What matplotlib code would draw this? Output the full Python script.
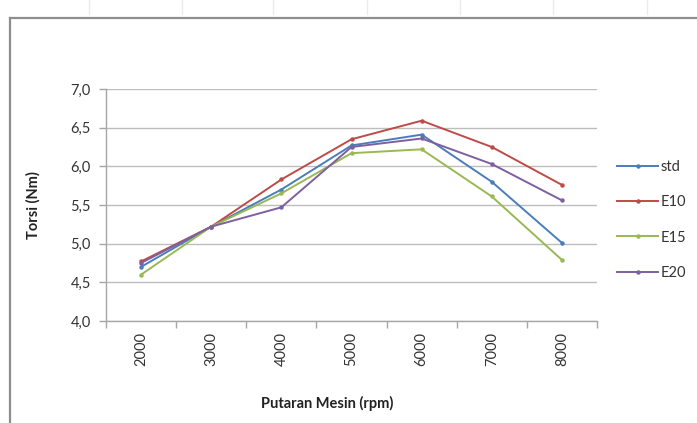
import matplotlib
matplotlib.use("Agg")
import matplotlib.pyplot as plt
from matplotlib.lines import Line2D
import numpy as np

plt.rcParams['font.family'] = ['Lato', 'DejaVu Sans']

# Engine speed categories and torque per fuel blend
rpm_labels = ["2000", "3000", "4000", "5000", "6000", "7000", "8000"]
std = [4.70, 5.22, 5.70, 6.27, 6.41, 5.80, 5.01]
e10 = [4.77, 5.22, 5.83, 6.35, 6.59, 6.25, 5.76]
e15 = [4.60, 5.22, 5.65, 6.17, 6.22, 5.61, 4.79]
e20 = [4.75, 5.22, 5.47, 6.25, 6.36, 6.03, 5.56]
series_names = ["std", "E10", "E15", "E20"]
y_ticks = [4.0, 4.5, 5.0, 5.5, 6.0, 6.5, 7.0]

colors = ["#4A7EBB", "#BE4B48", "#98B954", "#7D60A0"]

W, H = 697, 423
fig = plt.figure(figsize=(W / 100, H / 100), dpi=100)
fig.patch.set_facecolor("white")

# frame of the chart object
fig.add_artist(Line2D([10 / W, 10 / W], [0, 1 - 18 / H], color="#8E8E8E", lw=1.6,
                      transform=fig.transFigure))
fig.add_artist(Line2D([10 / W, 1], [1 - 18 / H, 1 - 18 / H], color="#8E8E8E", lw=1.6,
                      transform=fig.transFigure))
# faint marks above the frame
for px in [89, 182, 273, 367, 460, 553, 647]:
    fig.add_artist(Line2D([px / W, px / W], [1 - 14 / H, 1], color="#EBEBEB", lw=1.0,
                          transform=fig.transFigure))

ax = fig.add_axes([106 / W, 1 - 321 / H, 491 / W, 232 / H])
x = np.arange(len(rpm_labels))
for vals, c, name in zip([std, e10, e15, e20], colors, series_names):
    ax.plot(x, vals, color=c, lw=1.4, marker="o", markersize=3.2,
            markeredgewidth=0, label=name, zorder=3)

ax.set_xlim(-0.5, len(rpm_labels) - 0.5)
ax.set_ylim(4.0, 7.0)
ax.set_yticks(y_ticks)
ax.set_yticklabels([f"{v:.1f}".replace(".", ",") for v in y_ticks], fontsize=10.5,
                   color="#333333")
ax.set_xticks(x)
ax.set_xticklabels(rpm_labels, rotation=90, fontsize=10.5, color="#333333")
ax.set_xticks(np.arange(-0.5, len(rpm_labels) + 0.5, 1.0), minor=True)
ax.tick_params(axis="x", which="major", length=0, pad=8)
ax.tick_params(axis="x", which="minor", length=5, color="#A6A6A6", width=1)
ax.tick_params(axis="y", which="major", length=5, color="#A6A6A6", width=1, pad=6)

ax.grid(axis="y", color="#BDBDBD", lw=1.0, zorder=0)
for s in ["top", "right"]:
    ax.spines[s].set_visible(False)
for s in ["left", "bottom"]:
    ax.spines[s].set_color("#A6A6A6")
    ax.spines[s].set_linewidth(1.0)

fig.text(33 / W, 1 - 205 / H, "Torsi (Nm)", fontsize=10.5, fontweight="bold",
         color="#222222", ha="center", va="center", rotation=90)
fig.text(327 / W, 1 - 403 / H, "Putaran Mesin (rpm)", fontsize=10.5, fontweight="bold",
         color="#222222", ha="center", va="center")

leg = fig.legend(loc="center left", bbox_to_anchor=(610 / W, 1 - 220 / H),
                 frameon=False, fontsize=10.5, handlelength=2.8, labelspacing=1.45,
                 handletextpad=0.15, borderpad=0)
for t in leg.get_texts():
    t.set_color("#333333")

fig.savefig("out.png", dpi=100, facecolor="white")
